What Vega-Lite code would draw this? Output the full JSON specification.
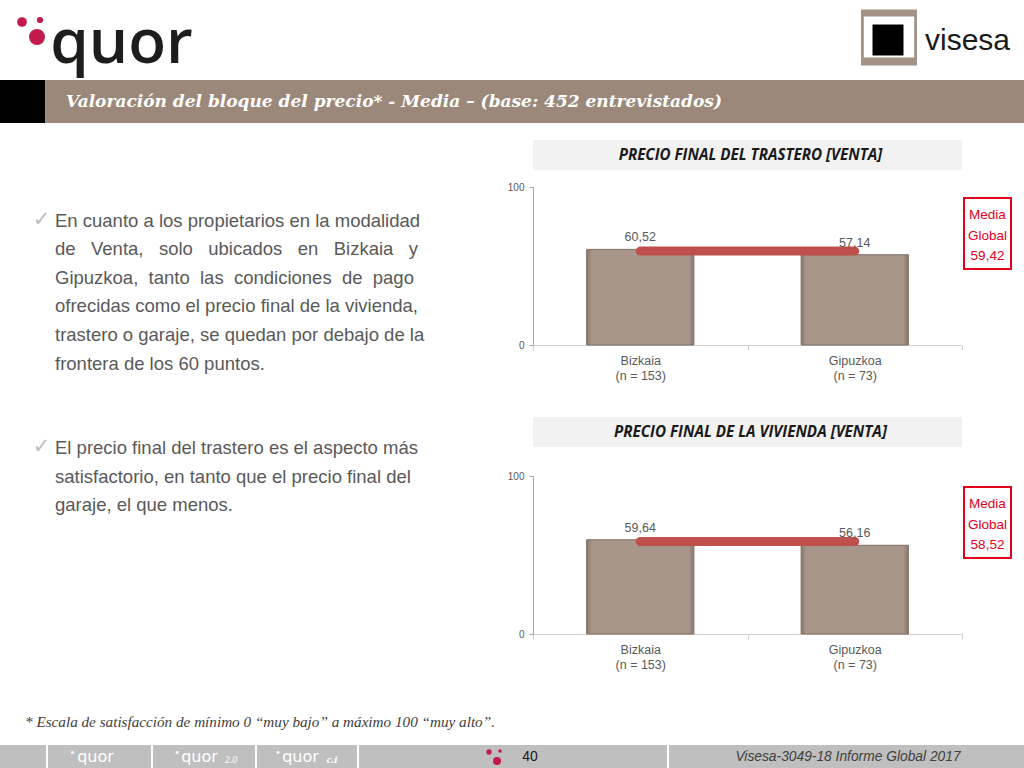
{
  "$schema": "https://vega.github.io/schema/vega-lite/v6.json",
  "padding": 0,
  "background": "white",
  "config": {"view": {"stroke": null}, "font": "Liberation Sans"},
  "datasets": {
    "trastero": [
      {"region": "Bizkaia|(n = 153)", "value": 60.52, "label": "60,52", "global": 59.42},
      {"region": "Gipuzkoa|(n = 73)", "value": 57.14, "label": "57,14", "global": 59.42}
    ],
    "vivienda": [
      {"region": "Bizkaia|(n = 153)", "value": 59.64, "label": "59,64", "global": 58.52},
      {"region": "Gipuzkoa|(n = 73)", "value": 56.16, "label": "56,16", "global": 58.52}
    ],
    "mediaTrastero": [{"lines": ["Media", "Global", "59,42"]}],
    "mediaVivienda": [{"lines": ["Media", "Global", "58,52"]}],
    "bullet1": [{"lines": [
      "En cuanto a los propietarios en la modalidad",
      "de \u00a0 Venta, \u00a0 solo \u00a0 ubicados \u00a0 en \u00a0 Bizkaia \u00a0 y",
      "Gipuzkoa, \u00a0tanto \u00a0las \u00a0condiciones \u00a0de \u00a0pago",
      "ofrecidas como el precio final de la vivienda,",
      "trastero o garaje, se quedan por debajo de la",
      "frontera de los 60 puntos."
    ]}],
    "bullet2": [{"lines": [
      "El precio final del trastero es el aspecto más",
      "satisfactorio, en tanto que el precio final del",
      "garaje, el que menos."
    ]}],
    "one": [{}]
  },
  "vconcat": [
    {
      "vconcat": [
        {
          "hconcat": [
            {
              "width": 220, "height": 80,
              "data": {"name": "one"},
              "layer": [
                {"mark": {"type": "text", "text": "quor", "font": "Open Sans", "fontWeight": 600, "fontSize": 62, "color": "#1d1d1b", "align": "center", "baseline": "alphabetic", "dx": 11.5, "dy": 23}},
                {"mark": {"type": "point", "shape": "circle", "filled": true, "size": 95, "color": "#c21a4a", "opacity": 1}, "encoding": {"xOffset": {"value": -88}, "yOffset": {"value": -18}}},
                {"mark": {"type": "point", "shape": "circle", "filled": true, "size": 38, "color": "#c21a4a", "opacity": 1}, "encoding": {"xOffset": {"value": -70}, "yOffset": {"value": -20}}},
                {"mark": {"type": "point", "shape": "circle", "filled": true, "size": 254, "color": "#c21a4a", "opacity": 1}, "encoding": {"xOffset": {"value": -73}, "yOffset": {"value": -3}}}
              ]
            },
            {
              "hconcat": [
                {
                  "width": 56, "height": 80,
                  "data": {"name": "one"},
                  "layer": [
                    {"mark": {"type": "point", "shape": "M-1,-1H1V-0.75H-1Z M-1,0.71H1V1H-1Z M-1,-0.75H-0.9V0.71H-1Z M0.9,-0.75H1V0.71H0.9Z", "filled": true, "size": 3136, "color": "#a39286", "opacity": 1}, "encoding": {"yOffset": {"value": -2.5}}},
                    {"mark": {"type": "point", "shape": "square", "filled": true, "size": 960, "color": "#000000", "opacity": 1}, "encoding": {"xOffset": {"value": -1}}}
                  ]
                },
                {
                  "width": 106, "height": 80,
                  "data": {"name": "one"},
                  "mark": {"type": "text", "text": "visesa", "font": "Liberation Sans", "fontSize": 30, "color": "#1a1a1a", "align": "center", "baseline": "alphabetic", "dx": -2.5, "dy": 10}
                }
              ],
              "spacing": 0
            }
          ],
          "spacing": 641
        },
        {
          "hconcat": [
            {"width": 45, "height": 43, "view": {"fill": "#000000", "stroke": null}, "data": {"values": []}, "mark": "text"},
            {
              "width": 979, "height": 43, "view": {"fill": "#9b887b", "stroke": null},
              "data": {"name": "one"},
              "mark": {"type": "text", "text": "Valoración del bloque del precio* - Media – (base: 452 entrevistados)", "font": "DejaVu Serif", "fontStyle": "italic", "fontWeight": "bold", "fontSize": 17, "color": "white", "align": "left", "baseline": "middle", "dx": -468.5}
            }
          ],
          "spacing": 0
        }
      ],
      "spacing": 0
    },
    {
      "hconcat": [
        {
          "width": 440, "height": 551,
          "layer": [
            {"data": {"name": "bullet1"}, "mark": {"type": "text", "align": "left", "baseline": "top", "fontSize": 18.5, "lineHeight": 28.6, "color": "#595959", "dx": -165, "dy": -204}, "encoding": {"text": {"field": "lines"}}},
            {"data": {"name": "bullet2"}, "mark": {"type": "text", "align": "left", "baseline": "top", "fontSize": 18.5, "lineHeight": 28.6, "color": "#595959", "dx": -165, "dy": 23.5}, "encoding": {"text": {"field": "lines"}}},
            {"data": {"name": "one"}, "mark": {"type": "text", "text": "✓", "font": "DejaVu Sans", "align": "center", "baseline": "top", "fontSize": 21, "color": "#bdbdbd", "dx": -178.5, "dy": -207}},
            {"data": {"name": "one"}, "mark": {"type": "text", "text": "✓", "font": "DejaVu Sans", "align": "center", "baseline": "top", "fontSize": 21, "color": "#bdbdbd", "dx": -178.5, "dy": 20}}
          ]
        },
        {
          "vconcat": [
            {
              "vconcat": [
                {
                  "width": 429, "height": 30, "view": {"fill": "#f2f2f2", "stroke": null},
                  "data": {"name": "one"},
                  "mark": {"type": "text", "text": "PRECIO FINAL DEL TRASTERO [VENTA]", "font": "Open Sans", "fontStyle": "italic", "fontWeight": "bold", "fontSize": 15.2, "color": "#1a1a1a", "align": "center", "baseline": "middle", "dx": 3}
                },
                {
                  "hconcat": [
                    {
                      "width": 429, "height": 158,
                      "data": {"name": "trastero"},
                      "encoding": {
                        "x": {"field": "region", "type": "nominal", "sort": null, "scale": {"paddingInner": 0, "paddingOuter": 0},
                          "axis": {"title": null, "labelAngle": 0, "labelExpr": "split(datum.label, '|')", "labelFontSize": 12.5, "labelColor": "#595959", "labelLineHeight": 15, "labelPadding": 4, "domainColor": "#d0d0d0", "tickColor": "#d0d0d0", "tickBand": "extent", "tickSize": 5, "minExtent": 40, "maxExtent": 40}}
                      },
                      "layer": [
                        {"mark": {"type": "bar", "width": {"band": 0.5}, "stroke": "#7f6e63", "strokeWidth": 1,
                          "fill": {"gradient": "linear", "x1": 0, "x2": 1, "y1": 0, "y2": 0, "stops": [{"offset": 0, "color": "#8a786c"}, {"offset": 0.05, "color": "#a8968a"}, {"offset": 0.95, "color": "#a8968a"}, {"offset": 1, "color": "#8a786c"}]}},
                          "encoding": {"y": {"field": "value", "type": "quantitative", "scale": {"domain": [0, 100], "nice": false},
                            "axis": {"title": null, "values": [0, 100], "grid": false, "labelFontSize": 10, "labelColor": "#595959", "domainColor": "#a6a6a6", "tickColor": "#a6a6a6", "tickSize": 4, "labelPadding": 5, "minExtent": 30, "maxExtent": 30}}}},
                        {"mark": {"type": "line", "color": "#c0504d", "strokeWidth": 9, "strokeCap": "round"},
                          "encoding": {"y": {"field": "global", "type": "quantitative", "title": null}}},
                        {"mark": {"type": "text", "baseline": "bottom", "dy": -5, "fontSize": 12.5, "color": "#595959"},
                          "encoding": {"y": {"field": "value", "type": "quantitative", "title": null}, "text": {"field": "label"}}}
                      ]
                    },
                    {
                      "vconcat": [
                        {"width": 47, "height": 1, "data": {"values": []}, "mark": "text"},
                        {"width": 47, "height": 71, "view": {"fill": "white", "stroke": "#e3001b", "strokeWidth": 2},
                          "data": {"name": "mediaTrastero"},
                          "mark": {"type": "text", "fontSize": 13.5, "lineHeight": 20.5, "color": "#e3001b", "align": "center", "baseline": "top", "dy": -25.5},
                          "encoding": {"text": {"field": "lines"}}}
                      ],
                      "spacing": 9
                    }
                  ],
                  "spacing": 0
                }
              ],
              "spacing": 12
            },
            {
              "vconcat": [
                {
                  "width": 429, "height": 30, "view": {"fill": "#f2f2f2", "stroke": null},
                  "data": {"name": "one"},
                  "mark": {"type": "text", "text": "PRECIO FINAL DE LA VIVIENDA [VENTA]", "font": "Open Sans", "fontStyle": "italic", "fontWeight": "bold", "fontSize": 15.2, "color": "#1a1a1a", "align": "center", "baseline": "middle", "dx": 3}
                },
                {
                  "hconcat": [
                    {
                      "width": 429, "height": 158,
                      "data": {"name": "vivienda"},
                      "encoding": {
                        "x": {"field": "region", "type": "nominal", "sort": null, "scale": {"paddingInner": 0, "paddingOuter": 0},
                          "axis": {"title": null, "labelAngle": 0, "labelExpr": "split(datum.label, '|')", "labelFontSize": 12.5, "labelColor": "#595959", "labelLineHeight": 15, "labelPadding": 4, "domainColor": "#d0d0d0", "tickColor": "#d0d0d0", "tickBand": "extent", "tickSize": 5, "minExtent": 40, "maxExtent": 40}}
                      },
                      "layer": [
                        {"mark": {"type": "bar", "width": {"band": 0.5}, "stroke": "#7f6e63", "strokeWidth": 1,
                          "fill": {"gradient": "linear", "x1": 0, "x2": 1, "y1": 0, "y2": 0, "stops": [{"offset": 0, "color": "#8a786c"}, {"offset": 0.05, "color": "#a8968a"}, {"offset": 0.95, "color": "#a8968a"}, {"offset": 1, "color": "#8a786c"}]}},
                          "encoding": {"y": {"field": "value", "type": "quantitative", "scale": {"domain": [0, 100], "nice": false},
                            "axis": {"title": null, "values": [0, 100], "grid": false, "labelFontSize": 10, "labelColor": "#595959", "domainColor": "#a6a6a6", "tickColor": "#a6a6a6", "tickSize": 4, "labelPadding": 5, "minExtent": 30, "maxExtent": 30}}}},
                        {"mark": {"type": "line", "color": "#c0504d", "strokeWidth": 9, "strokeCap": "round"},
                          "encoding": {"y": {"field": "global", "type": "quantitative", "title": null}}},
                        {"mark": {"type": "text", "baseline": "bottom", "dy": -5, "fontSize": 12.5, "color": "#595959"},
                          "encoding": {"y": {"field": "value", "type": "quantitative", "title": null}, "text": {"field": "label"}}}
                      ]
                    },
                    {
                      "vconcat": [
                        {"width": 47, "height": 1, "data": {"values": []}, "mark": "text"},
                        {"width": 47, "height": 71, "view": {"fill": "white", "stroke": "#e3001b", "strokeWidth": 2},
                          "data": {"name": "mediaVivienda"},
                          "mark": {"type": "text", "fontSize": 13.5, "lineHeight": 20.5, "color": "#e3001b", "align": "center", "baseline": "top", "dy": -25.5},
                          "encoding": {"text": {"field": "lines"}}}
                      ],
                      "spacing": 9
                    }
                  ],
                  "spacing": 0
                }
              ],
              "spacing": 24
            }
          ],
          "spacing": 32
        }
      ],
      "spacing": 63
    },
    {
      "vconcat": [
        {
          "width": 1024, "height": 28,
          "data": {"name": "one"},
          "mark": {"type": "text", "text": "* Escala de satisfacción de mínimo 0 “muy bajo” a máximo 100 “muy alto”.", "font": "Liberation Serif", "fontStyle": "italic", "fontSize": 15.2, "color": "#404040", "align": "left", "baseline": "middle", "dx": -487}
        },
        {
          "hconcat": [
            {"width": 46, "height": 23, "view": {"fill": "#bfbfbf", "stroke": null}, "data": {"values": []}, "mark": "text"},
            {"width": 103, "height": 23, "view": {"fill": "#bfbfbf", "stroke": null}, "data": {"name": "one"},
              "layer": [
                {"mark": {"type": "text", "text": "quor", "font": "DejaVu Sans", "fontSize": 16, "color": "white", "align": "center", "baseline": "middle", "dx": -4}},
                {"mark": {"type": "text", "text": "•", "fontSize": 10, "color": "white", "align": "center", "baseline": "middle", "dx": -27, "dy": -4}}
              ]},
            {"width": 102, "height": 23, "view": {"fill": "#bfbfbf", "stroke": null}, "data": {"name": "one"},
              "layer": [
                {"mark": {"type": "text", "text": "quor", "font": "DejaVu Sans", "fontSize": 16, "color": "white", "align": "center", "baseline": "middle", "dx": -4.5}},
                {"mark": {"type": "text", "text": "2.0", "font": "Liberation Serif", "fontStyle": "italic", "fontSize": 10, "color": "white", "align": "center", "baseline": "middle", "dx": 27, "dy": 3}},
                {"mark": {"type": "text", "text": "•", "fontSize": 10, "color": "white", "align": "center", "baseline": "middle", "dx": -27, "dy": -4}}
              ]},
            {"width": 100, "height": 23, "view": {"fill": "#bfbfbf", "stroke": null}, "data": {"name": "one"},
              "layer": [
                {"mark": {"type": "text", "text": "quor", "font": "DejaVu Sans", "fontSize": 16, "color": "white", "align": "center", "baseline": "middle", "dx": -6.5}},
                {"mark": {"type": "text", "text": "c.i", "font": "Liberation Serif", "fontStyle": "italic", "fontWeight": "bold", "fontSize": 11, "color": "white", "align": "center", "baseline": "middle", "dx": 25, "dy": 3}},
                {"mark": {"type": "text", "text": "•", "fontSize": 10, "color": "white", "align": "center", "baseline": "middle", "dx": -29, "dy": -4}}
              ]},
            {"width": 308, "height": 23, "view": {"fill": "#bfbfbf", "stroke": null}, "data": {"name": "one"},
              "layer": [
                {"mark": {"type": "text", "text": "40", "fontSize": 14, "color": "#1a1a1a", "align": "center", "baseline": "middle", "dx": 17}},
                {"mark": {"type": "point", "shape": "circle", "filled": true, "size": 28, "color": "#c21a4a", "opacity": 1}, "encoding": {"xOffset": {"value": -24}, "yOffset": {"value": -4.5}}},
                {"mark": {"type": "point", "shape": "circle", "filled": true, "size": 13, "color": "#c21a4a", "opacity": 1}, "encoding": {"xOffset": {"value": -13}, "yOffset": {"value": -5.5}}},
                {"mark": {"type": "point", "shape": "circle", "filled": true, "size": 64, "color": "#c21a4a", "opacity": 1}, "encoding": {"xOffset": {"value": -16}, "yOffset": {"value": 4.5}}}
              ]},
            {"width": 355, "height": 23, "view": {"fill": "#bfbfbf", "stroke": null}, "data": {"name": "one"},
              "mark": {"type": "text", "text": "Visesa-3049-18  Informe Global 2017", "fontStyle": "italic", "fontSize": 13.8, "color": "#404040", "align": "center", "baseline": "middle", "dx": 1.5}}
          ],
          "spacing": 2
        }
      ],
      "spacing": 9
    }
  ],
  "spacing": 17
}
